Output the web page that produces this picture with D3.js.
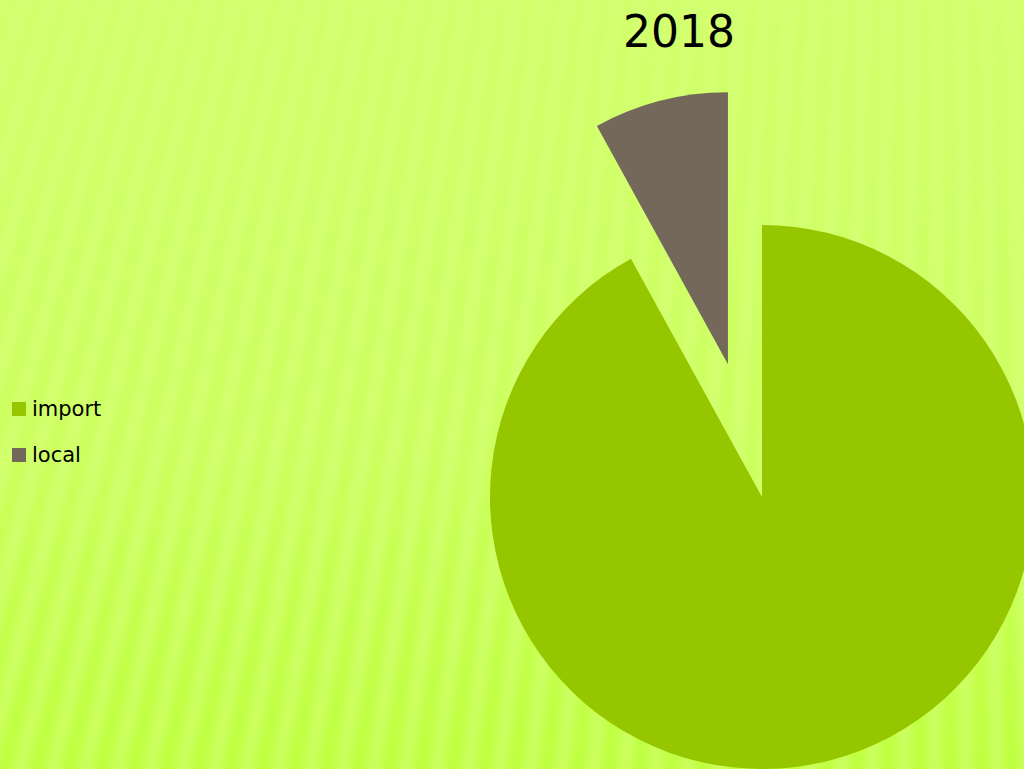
<!DOCTYPE html>
<html>
<head>
<meta charset="utf-8">
<script src="https://cdn.jsdelivr.net/npm/d3@7"></script>
<style>
  html, body { margin: 0; padding: 0; overflow: hidden; }
  svg { display: block; }
</style>
</head>
<body>
<div id="chart"></div>
<script>
// chart values
const title = "2018";
const categories = ["import", "local"];
const values = [92, 8];
const colors = ["#96c600", "#73685a"];

const width = 1024, height = 769;

const svg = d3.select("#chart").append("svg")
    .attr("width", width)
    .attr("height", height);

const defs = svg.append("defs");

// background gradient, lighter at the top
const bg = defs.append("linearGradient")
    .attr("id", "bgGrad")
    .attr("x1", 0).attr("y1", 0).attr("x2", 0).attr("y2", 1);
bg.append("stop").attr("offset", "0%").attr("stop-color", "#d4ff74");
bg.append("stop").attr("offset", "60%").attr("stop-color", "#d2ff70");
bg.append("stop").attr("offset", "100%").attr("stop-color", "#caff5c");

const stripeGrad = defs.append("linearGradient")
    .attr("id", "stripeGrad")
    .attr("gradientUnits", "userSpaceOnUse")
    .attr("x1", 0).attr("y1", 0).attr("x2", 0).attr("y2", height);
stripeGrad.append("stop").attr("offset", "0%").attr("stop-color", "#c8ff50").attr("stop-opacity", 0.25);
stripeGrad.append("stop").attr("offset", "55%").attr("stop-color", "#c4ff48").attr("stop-opacity", 0.45);
stripeGrad.append("stop").attr("offset", "100%").attr("stop-color", "#bcff38").attr("stop-opacity", 0.8);

defs.append("filter")
    .attr("id", "blur")
    .attr("x", "-10%").attr("y", "-10%").attr("width", "120%").attr("height", "120%")
    .append("feGaussianBlur")
    .attr("stdDeviation", 3.5);

svg.append("rect")
    .attr("width", width)
    .attr("height", height)
    .attr("fill", "url(#bgGrad)");

// fan of soft stripes coming from a point far above the slide
const src = {x: 950, y: -3000};
const step = 0.0082;
const far = 5000;
const stripes = svg.append("g").attr("filter", "url(#blur)");
d3.range(-45, 20).forEach((i) => {
    const a = i * step;
    const w = step * 0.25;
    const p = (ang) => [src.x + Math.sin(ang) * far, src.y + Math.cos(ang) * far];
    const pts = [[src.x, src.y], p(a - w), p(a + w)];
    stripes.append("polygon")
        .attr("points", pts.map((d) => d.join(",")).join(" "))
        .attr("fill", "url(#stripeGrad)");
});

// pie
const cx = 762, cy = 497, radius = 272, explode = 137;

const pie = d3.pie().sort(null).value((d) => d.value);
const arc = d3.arc().innerRadius(0).outerRadius(radius);

const data = categories.map((c, i) => ({name: c, value: values[i], color: colors[i]}));

const pieG = svg.append("g").attr("transform", `translate(${cx},${cy})`);

pieG.selectAll("path")
    .data(pie(data))
    .join("path")
    .attr("d", arc)
    .attr("fill", (d) => d.data.color)
    .attr("transform", (d) => {
        if (d.data.name !== "local") return null;
        const mid = (d.startAngle + d.endAngle) / 2;
        return `translate(${Math.sin(mid) * explode},${-Math.cos(mid) * explode})`;
    });

// title
svg.append("text")
    .attr("x", 679)
    .attr("y", 47)
    .attr("text-anchor", "middle")
    .attr("font-family", "DejaVu Sans, sans-serif")
    .attr("font-size", 44)
    .attr("fill", "#000")
    .text(title);

// legend
const legend = svg.append("g").attr("transform", "translate(12,402)");
const item = legend.selectAll("g")
    .data(data)
    .join("g")
    .attr("transform", (d, i) => `translate(0,${i * 46})`);

item.append("rect")
    .attr("width", 14)
    .attr("height", 14)
    .attr("fill", (d) => d.color);

item.append("text")
    .attr("x", 20)
    .attr("y", 14)
    .attr("font-family", "DejaVu Sans, sans-serif")
    .attr("font-size", 21)
    .attr("fill", "#000")
    .text((d) => d.name);
</script>
</body>
</html>
